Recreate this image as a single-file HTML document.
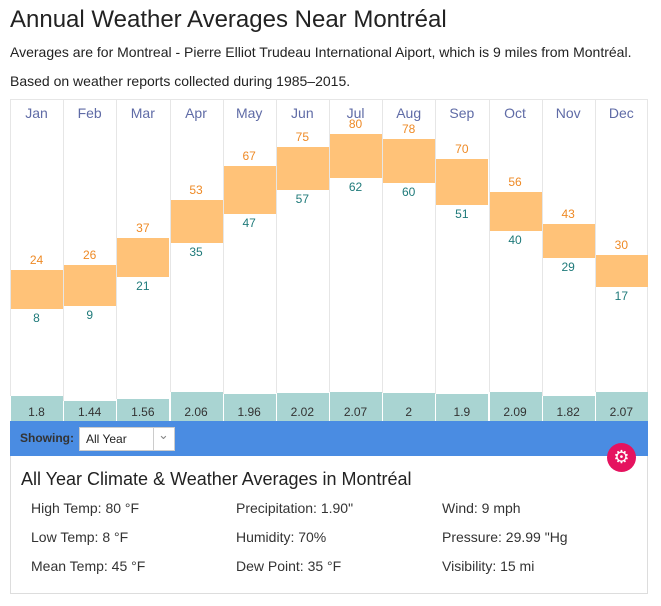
<!DOCTYPE html>
<html><head><style>
body{margin:0;background:#fff;font-family:"Liberation Sans",sans-serif;color:#222;width:661px;height:606px;overflow:hidden;position:relative}
.a{position:absolute}
h1{position:absolute;left:10px;top:6px;margin:0;font-weight:normal;font-size:24px;color:#222}
.p{position:absolute;left:10px;font-size:14px;color:#222}
.col{position:absolute;top:100px;height:321px;border-left:1px solid #e6e6e6;box-sizing:border-box}
.m{position:absolute;width:53px;text-align:center;top:105px;font-size:14px;color:#5f6ba6}
.bar{position:absolute;background:#ffc278}
.hi{position:absolute;width:53px;text-align:center;font-size:12px;color:#ee8a26}
.lo{position:absolute;width:53px;text-align:center;font-size:12px;color:#1f7a7a}
.pr{position:absolute;background:#a9d4d2;border-left:1px solid #fff;box-sizing:border-box}
.pl{position:absolute;width:53px;text-align:center;top:405px;font-size:12px;color:#333}
.d{position:absolute;font-size:14px;color:#333}
</style></head><body>
<h1>Annual Weather Averages Near Montréal</h1>
<div class="p" style="top:44px">Averages are for Montreal - Pierre Elliot Trudeau International Aiport, which is 9 miles from Montréal.</div>
<div class="p" style="top:73px">Based on weather reports collected during 1985–2015.</div>
<div class="a" style="left:10px;top:99px;width:638px;height:322px;border-top:1px solid #e6e6e6;border-right:1px solid #e6e6e6;box-sizing:border-box"></div>
<div id="c"></div>
<div class="a" style="left:10px;top:421px;width:638px;height:35px;background:#4a8ce2"></div>
<div class="a" style="left:20px;top:431px;font-size:12px;font-weight:bold;color:#333">Showing:</div>
<div class="a" style="left:79px;top:427px;width:96px;height:24px;background:#fff;border:1px solid #ccc;box-sizing:border-box"></div>
<div class="a" style="left:86px;top:432px;font-size:12px;color:#222">All Year</div>
<div class="a" style="left:153px;top:427px;width:1px;height:24px;background:#ccc"></div>
<div class="a" style="left:158px;top:427px;font-size:13px;color:#888">&#8964;</div>
<div class="a" style="left:10px;top:456px;width:638px;height:138px;border:1px solid #ddd;border-top:none;box-sizing:border-box"></div>
<div class="a" style="left:607px;top:443px;width:29px;height:29px;border-radius:50%;background:#e5135f;color:#fff;text-align:center;line-height:29px;font-size:18px">&#9881;</div>
<div class="a" style="left:21px;top:469px;font-size:18px;color:#222">All Year Climate &amp; Weather Averages in Montréal</div>
<div class="d" style="left:31px;top:500px">High Temp: 80 °F</div>
<div class="d" style="left:31px;top:529px">Low Temp: 8 °F</div>
<div class="d" style="left:31px;top:558px">Mean Temp: 45 °F</div>
<div class="d" style="left:236px;top:500px">Precipitation: 1.90"</div>
<div class="d" style="left:236px;top:529px">Humidity: 70%</div>
<div class="d" style="left:236px;top:558px">Dew Point: 35 °F</div>
<div class="d" style="left:442px;top:500px">Wind: 9 mph</div>
<div class="d" style="left:442px;top:529px">Pressure: 29.99 "Hg</div>
<div class="d" style="left:442px;top:558px">Visibility: 15 mi</div>
<script>
var M=["Jan","Feb","Mar","Apr","May","Jun","Jul","Aug","Sep","Oct","Nov","Dec"],
H=[24,26,37,53,67,75,80,78,70,56,43,30],L=[8,9,21,35,47,57,62,60,51,40,29,17],
P=["1.8","1.44","1.56","2.06","1.96","2.02","2.07","2","1.9","2.09","1.82","2.07"],s="";
for(var i=0;i<12;i++){var x=10+i*53.17,yh=328-2.42*H[i],yl=328-2.42*L[i],ph=14*parseFloat(P[i]);
s+='<div class="col" style="left:'+x+'px;width:53px"></div>';
s+='<div class="m" style="left:'+x+'px">'+M[i]+'</div>';
s+='<div class="bar" style="left:'+(x+1)+'px;width:52px;top:'+yh+'px;height:'+(yl-yh)+'px"></div>';
s+='<div class="hi" style="left:'+x+'px;top:'+(yh-17)+'px">'+H[i]+'</div>';
s+='<div class="lo" style="left:'+x+'px;top:'+(yl+2)+'px">'+L[i]+'</div>';
s+='<div class="pr" style="left:'+x+'px;width:53px;top:'+(421-ph)+'px;height:'+ph+'px"></div>';
s+='<div class="pl" style="left:'+x+'px">'+P[i]+'</div>';}
document.getElementById("c").innerHTML=s;
</script>
</body></html>
